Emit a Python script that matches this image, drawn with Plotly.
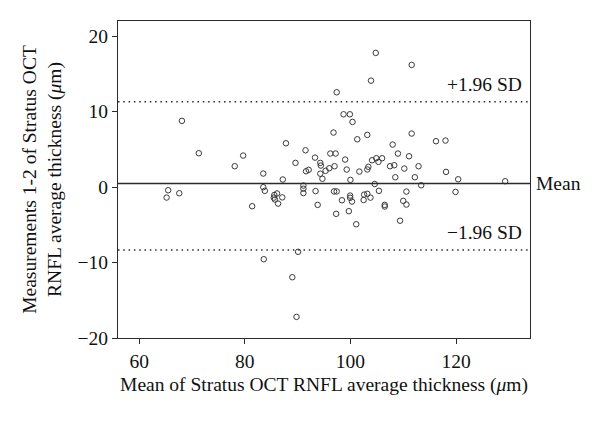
import plotly.graph_objects as go

# Mean of the two measurements (x) and their difference (y)
mean_thickness = [
    104.8, 111.6, 103.9, 97.4, 98.7, 99.9, 100.4, 68.1, 96.8, 103.2,
    111.6, 101.3, 116.2, 118.0, 87.8, 108.0, 91.5, 71.3, 96.2, 97.2,
    109.0, 79.7, 111.1, 93.3, 99.0, 104.1, 104.9, 106.0, 105.3, 89.6,
    94.3, 94.4, 78.1, 97.0, 96.0, 95.3, 107.5, 108.3, 112.9, 103.4,
    103.2, 99.3, 91.6, 92.1, 101.7, 110.2, 118.1, 83.5, 94.3, 108.5,
    112.2, 94.7, 87.2, 120.4, 100.0, 129.3, 104.6, 113.4, 91.1, 91.1,
    91.1, 83.5, 83.8, 65.5, 65.2, 67.6, 81.4, 85.6, 86.1, 85.5,
    85.7, 87.1, 86.3, 93.4, 93.8, 96.9, 97.4, 97.3, 98.4, 99.7,
    99.95, 99.95, 100.3, 101.1, 102.6, 103.2, 103.8, 102.5, 105.4, 106.5,
    106.5, 109.4, 110.0, 110.6, 110.6, 119.9, 83.6, 90.1, 89.0, 89.8,
]
difference = [
    17.77, 16.18, 14.1, 12.56, 9.64, 9.64, 8.63, 8.77, 7.22, 6.91,
    7.09, 6.33, 6.07, 6.16, 5.8, 5.63, 4.87, 4.48, 4.44, 4.44,
    4.44, 4.17, 4.08, 3.9, 3.64, 3.55, 3.82, 3.82, 3.34, 3.2,
    3.2, 2.85, 2.76, 2.76, 2.49, 2.15, 2.76, 2.89, 2.76, 2.68,
    2.33, 2.32, 2.09, 2.28, 2.05, 2.45, 2.01, 1.79, 1.77, 1.3,
    1.3, 1.1, 1.0, 1.03, 0.95, 0.77, 0.4, 0.24, 0.2, -0.22,
    -0.8, -0.02, -0.5, -0.42, -1.39, -0.82, -2.54, -1.05, -0.85, -1.4,
    -1.65, -1.37, -2.19, -0.53, -2.36, -0.58, -0.58, -3.55, -1.75, -3.2,
    -1.13, -1.43, -1.92, -4.93, -1.0, -0.9, -1.4, -1.72, -0.5, -2.36,
    -2.58, -4.46, -1.83, -2.32, -0.6, -0.64, -9.56, -8.58, -11.95, -17.2,
]

mean_diff = 0.47
upper_loa = 11.3
lower_loa = -8.33

x_range = [56, 134]
y_range = [-20, 22]
x_ticks = [60, 80, 100, 120]
y_ticks = [-20, -10, 0, 10, 20]

FONT = "Liberation Serif"
FS = 19.5
INK = "#2b2b2b"
TXT = "#111"

fig = go.Figure()
fig.add_trace(go.Scatter(
    x=mean_thickness, y=difference, mode="markers",
    marker=dict(symbol="circle-open", size=5.5, color="#3a3a3a", line=dict(width=1)),
    showlegend=False, hoverinfo="x+y",
))

fig.add_hline(y=mean_diff, line=dict(color=INK, width=1.4, dash="solid"))
fig.add_hline(y=upper_loa, line=dict(color=INK, width=1.5, dash="1.5px,3.8px"))
fig.add_hline(y=lower_loa, line=dict(color=INK, width=1.5, dash="1.5px,3.8px"))

fig.add_annotation(x=1, xref="paper", xanchor="right", xshift=-6,
                   y=upper_loa, yref="y", yanchor="bottom", yshift=5,
                   text="+1.96 SD", showarrow=False, font=dict(family=FONT, size=FS, color=TXT))
fig.add_annotation(x=1, xref="paper", xanchor="right", xshift=-6,
                   y=lower_loa, yref="y", yanchor="bottom", yshift=5,
                   text="\u22121.96 SD", showarrow=False, font=dict(family=FONT, size=FS, color=TXT))
fig.add_annotation(x=1, xref="paper", xanchor="left", xshift=4,
                   y=mean_diff, yref="y", yanchor="middle",
                   text="Mean", showarrow=False, font=dict(family=FONT, size=FS, color=TXT))

axis_common = dict(showline=True, linecolor=INK, linewidth=1.3, mirror=True,
                   ticks="outside", ticklen=5, tickcolor=INK, tickwidth=1,
                   showgrid=False, zeroline=False,
                   tickfont=dict(family=FONT, size=FS, color=TXT))

fig.update_xaxes(range=x_range, tickvals=x_ticks,
                 title=dict(text="Mean of Stratus OCT RNFL average thickness (<i>\u03bc</i>m)",
                            font=dict(family=FONT, size=FS, color=TXT), standoff=6),
                 **axis_common)
fig.update_yaxes(range=y_range, tickvals=y_ticks,
                 title=dict(text="Measurements 1-2 of Stratus OCT<br>RNFL average thickness (<i>\u03bc</i>m)",
                            font=dict(family=FONT, size=FS, color=TXT), standoff=10),
                 **axis_common)

fig.update_layout(
    width=592, height=414,
    margin=dict(l=110, r=70, t=13, b=84),
    paper_bgcolor="white", plot_bgcolor="white",
    font=dict(family=FONT, color=TXT),
)

fig.write_html("out.html")
